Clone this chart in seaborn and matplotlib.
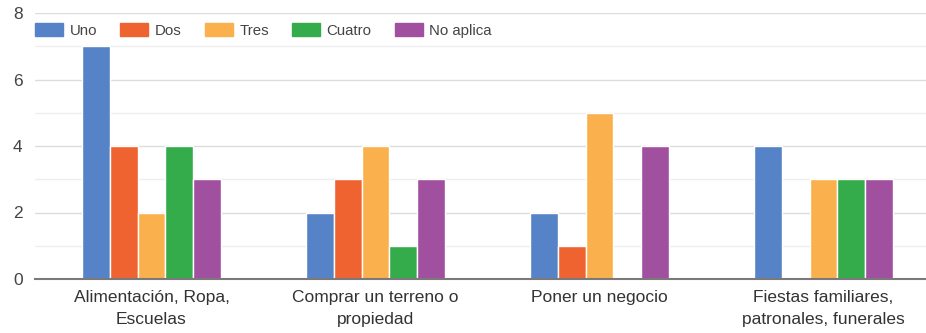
import matplotlib
matplotlib.use("Agg")
import matplotlib.pyplot as plt
import numpy as np
import pandas as pd
import seaborn as sns

# Datos
categorias = ["Alimentación, Ropa,\nEscuelas",
              "Comprar un terreno o\npropiedad",
              "Poner un negocio",
              "Fiestas familiares,\npatronales, funerales"]
series = ["Uno", "Dos", "Tres", "Cuatro", "No aplica"]
uno = [7, 2, 2, 4]
dos = [4, 3, 1, 0]
tres = [2, 4, 5, 3]
cuatro = [4, 1, 0, 3]
no_aplica = [3, 3, 4, 3]
colores = ["#5683c7", "#ef6330", "#f9b04d", "#34ac4c", "#a1509f"]

valores = [uno, dos, tres, cuatro, no_aplica]
filas = []
for nombre, vals in zip(series, valores):
    for cat, v in zip(categorias, vals):
        filas.append({"categoria": cat, "serie": nombre, "valor": v})
df = pd.DataFrame(filas)

sns.set_style("white")
plt.rcParams["font.family"] = ["Liberation Sans", "DejaVu Sans"]

fig = plt.figure(figsize=(9.26, 3.33), dpi=100)
ax = fig.add_axes([35 / 926, 54 / 333, 900.5 / 926, 266 / 333])

sns.barplot(data=df, x="categoria", y="valor", hue="serie",
            hue_order=series, order=categorias, palette=colores,
            saturation=1, width=0.62, edgecolor="white", linewidth=1, ax=ax)

# barras con valor cero: línea fina del color de la serie
for p in ax.patches:
    if p.get_height() == 0:
        p.set_edgecolor(p.get_facecolor())

ax.set_xlim(-0.52, 3.5)
ax.set_ylim(0, 8)
ax.set_yticks([0, 2, 4, 6, 8])
ax.set_yticks([1, 3, 5, 7], minor=True)
ax.grid(axis="y", which="major", color="#dcdcdc", linewidth=1)
ax.grid(axis="y", which="minor", color="#efefef", linewidth=1)
ax.set_axisbelow(True)
ax.set_xlabel("")
ax.set_ylabel("")

for s in ["top", "right", "left"]:
    ax.spines[s].set_visible(False)
ax.spines["bottom"].set_color("#7a7a7a")
ax.spines["bottom"].set_linewidth(1.5)

ax.tick_params(axis="y", which="both", length=0, pad=9, labelsize=12.5, labelcolor="#444444")
ax.tick_params(axis="x", length=0, pad=8, labelsize=12.5, labelcolor="#333333")
for lbl in ax.get_xticklabels():
    lbl.set_linespacing(1.55)

ax.legend(loc="upper left", bbox_to_anchor=(35 / 926, 1 - 23 / 333),
          bbox_transform=fig.transFigure, ncol=5, frameon=False,
          fontsize=10.8, labelcolor="#444444", handlelength=1.85, handleheight=1.0,
          handletextpad=0.45, columnspacing=1.55, borderpad=0, borderaxespad=0)

fig.savefig("out.png", dpi=100)
